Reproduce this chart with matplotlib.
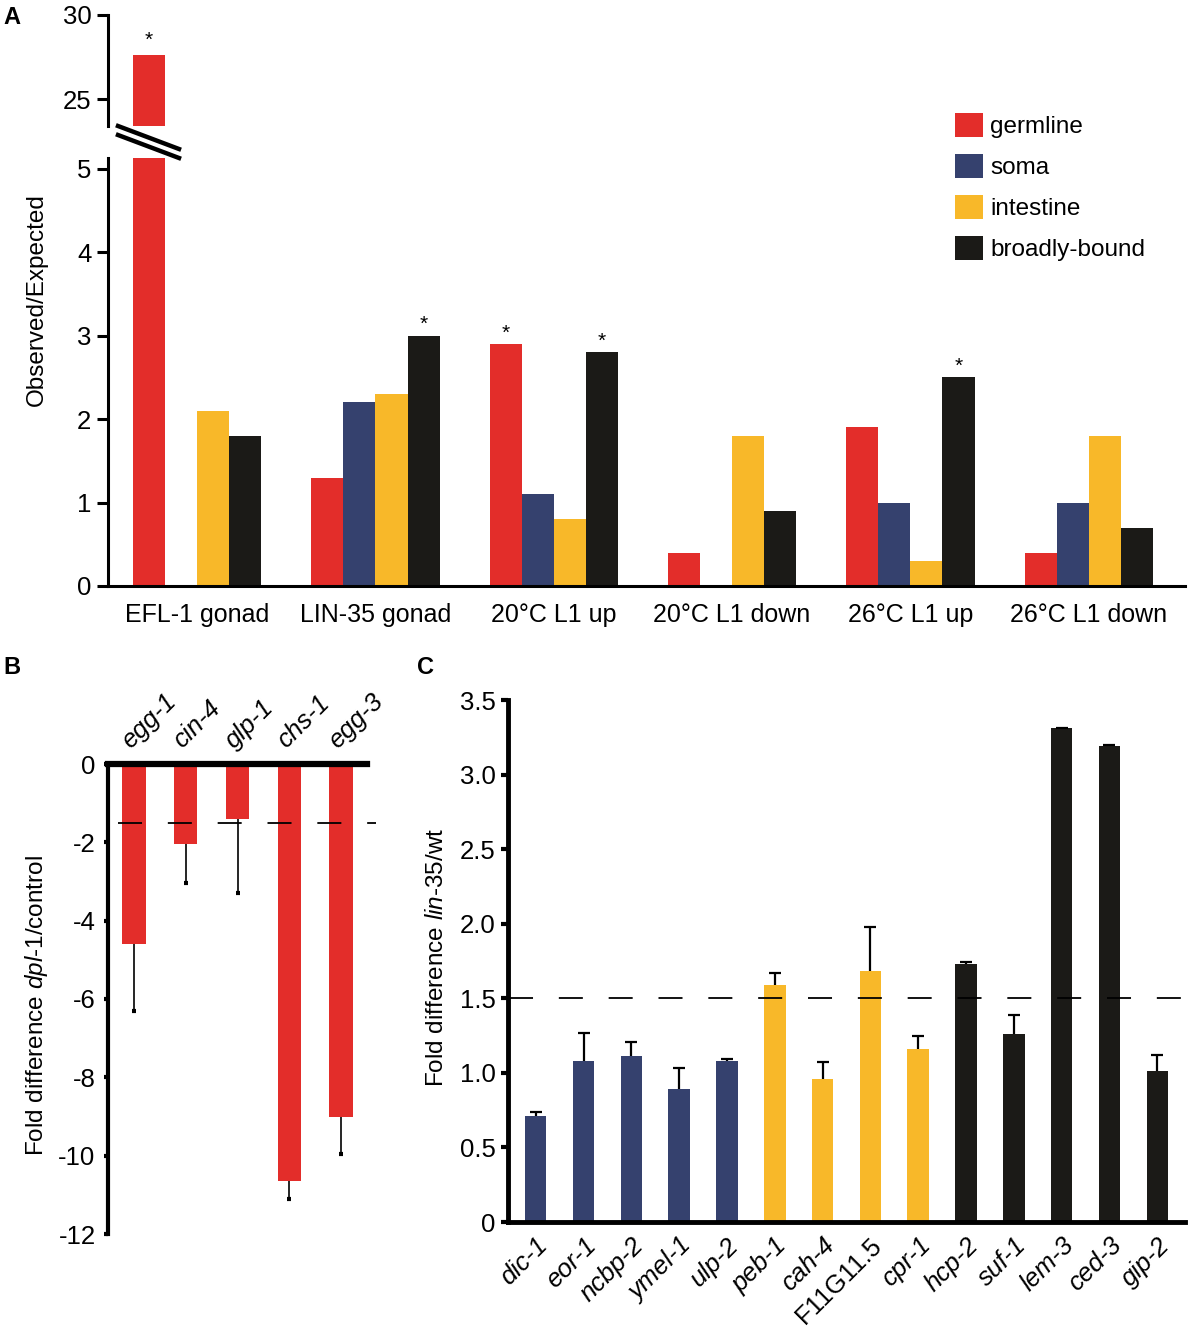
import numpy as np
import matplotlib
matplotlib.use("Agg")
import matplotlib.pyplot as plt
from matplotlib.patches import Patch
from matplotlib.lines import Line2D

# --- CONFIGURATION ---
W, H = 1200, 1328
RED = "#E32D2A"
NAVY = "#35416E"
YELLOW = "#F8B829"
BLACK = "#1B1A17"

plt.rcParams['font.family'] = ['Liberation Sans', 'DejaVu Sans']
plt.rcParams['axes.unicode_minus'] = False
plt.rcParams['mathtext.fontset'] = 'custom'
plt.rcParams['mathtext.rm'] = 'Liberation Sans'
plt.rcParams['mathtext.it'] = 'Liberation Sans:italic'

# --- DATA ---
# Panel A: observed/expected enrichment per gene set
a_groups = ["EFL-1 gonad", "LIN-35 gonad", "20°C L1 up", "20°C L1 down",
            "26°C L1 up", "26°C L1 down"]
a_series = ["germline", "soma", "intestine", "broadly-bound"]
a_germline = [27.6, 1.3, 2.9, 0.4, 1.9, 0.4]
a_soma = [0.0, 2.2, 1.1, 0.0, 1.0, 1.0]
a_intestine = [2.1, 2.3, 0.8, 1.8, 0.3, 1.8]
a_broad = [1.8, 3.0, 2.8, 0.9, 2.5, 0.7]
# (series index, group index) carrying a significance star
a_stars = [(0, 0), (3, 1), (0, 2), (3, 2), (3, 4)]

# Panel B: fold difference dpl-1/control
b_genes = ["egg-1", "cin-4", "glp-1", "chs-1", "egg-3"]
b_values = [-4.6, -2.05, -1.4, -10.65, -9.0]
b_err = [1.7, 1.0, 1.9, 0.45, 0.95]

# Panel C: fold difference lin-35/wt
c_genes = ["dic-1", "eor-1", "ncbp-2", "ymel-1", "ulp-2", "peb-1", "cah-4",
           "F11G11.5", "cpr-1", "hcp-2", "suf-1", "lem-3", "ced-3", "gip-2"]
c_values = [0.71, 1.08, 1.11, 0.89, 1.08, 1.59, 0.96, 1.68, 1.16, 1.73,
            1.26, 3.31, 3.19, 1.01]
c_err = [0.03, 0.19, 0.10, 0.14, 0.01, 0.08, 0.11, 0.30, 0.09, 0.01,
         0.13, 0.0, 0.01, 0.11]
c_class = ["soma"] * 5 + ["intestine"] * 4 + ["broadly-bound"] * 5

COLORS = {"germline": RED, "soma": NAVY, "intestine": YELLOW, "broadly-bound": BLACK}
DASH = (0, (13.3, 14.3))


def px_axes(fig, left, top, right, bottom):
    """Add axes placed by pixel box (origin top-left)."""
    return fig.add_axes([left / W, 1 - bottom / H, (right - left) / W, (bottom - top) / H])


fig = plt.figure(figsize=(W / 100, H / 100), dpi=100)

# --- PANEL A (broken y axis) ---
ax_top = px_axes(fig, 108, 15, 1185, 126)
ax_low = px_axes(fig, 108, 158, 1185, 586)

a_data = [a_germline, a_soma, a_intestine, a_broad]
x = np.arange(len(a_groups))
bw = 0.18
offsets = (np.arange(4) - 1.5) * bw
for ax in (ax_top, ax_low):
    for i, (name, vals) in enumerate(zip(a_series, a_data)):
        ax.bar(x + offsets[i], vals, bw, color=COLORS[name], label=name)
    ax.set_xlim(-0.5, 5.54)
    for s in ("top", "right"):
        ax.spines[s].set_visible(False)
    ax.spines["left"].set_linewidth(2.2)
    ax.tick_params(axis="y", length=8, width=2.2, labelsize=18.5, pad=4)

ax_top.set_ylim(23.4, 30)
ax_top.set_yticks([25, 30])
ax_top.spines["bottom"].set_visible(False)
ax_top.set_xticks([])

ax_low.set_ylim(0, 5.13)
ax_low.set_yticks(range(6))
ax_low.spines["bottom"].set_linewidth(2.2)
ax_low.set_xticks(x)
ax_low.set_xticklabels(a_groups, fontsize=18)
ax_low.tick_params(axis="x", length=0, pad=12)
ax_low.get_xticklabels()[0].set_x(-0.04)

for si, gi in a_stars:
    v = a_data[si][gi]
    target = ax_top if v > 5 else ax_low
    off = 0.35 if v > 5 else 0.02
    target.text(x[gi] + offsets[si], v + off, "*", ha="center", va="bottom", fontsize=15)

# break marks
for dy in (0, 9):
    fig.add_artist(Line2D([118 / W, 179 / W], [1 - (126 + dy) / H, 1 - (149 + dy) / H],
                          color="black", lw=3.2))

fig.text(37 / W, 1 - 300 / H, "Observed/Expected", rotation=90, ha="center", va="center",
         fontsize=17.5)

handles = [Patch(facecolor=COLORS[n]) for n in a_series]
fig.legend(handles, a_series, loc="upper left", bbox_to_anchor=(955 / W, 1 - 113 / H),
           frameon=False, fontsize=17.5, handlelength=1.15, handleheight=1.15,
           handletextpad=0.3, labelspacing=0.64, borderpad=0, borderaxespad=0)

# --- PANEL B ---
ax_b = px_axes(fig, 108, 764, 367, 1234)
xb = np.arange(len(b_genes))
ax_b.bar(xb, b_values, 0.45, color=RED, zorder=2)
_, caps, _ = ax_b.errorbar(xb, b_values, yerr=[b_err, np.zeros(len(b_err))], fmt="none",
                           ecolor="black", elinewidth=1.2, capsize=1.5, capthick=3, zorder=3)
caps[1].set_visible(False)
ax_b.plot([-0.3, 4.67], [-1.5, -1.5], color="black", lw=1.3,
          linestyle=DASH, clip_on=False, zorder=4)
ax_b.set_xlim(-0.5, 4.5)
ax_b.set_ylim(-12, 0)
ax_b.set_yticks(range(-12, 1, 2))
for s in ("bottom", "right"):
    ax_b.spines[s].set_visible(False)
ax_b.spines["top"].set_linewidth(4.5)
ax_b.spines["left"].set_linewidth(3)
ax_b.tick_params(axis="y", length=3, width=3, labelsize=18.5, pad=6)
ax_b.xaxis.tick_top()
ax_b.set_xticks(xb)
ax_b.set_xticklabels(b_genes, rotation=45, ha="left", va="bottom",
                     rotation_mode="anchor", fontsize=18.5, style="italic")
ax_b.tick_params(axis="x", length=0, pad=8)
fig.text(37 / W, 1 - 1006 / H, r"Fold difference $\mathit{dpl}$-$\mathit{1}$/control",
         rotation=90, ha="center", va="center", fontsize=17.5)

# --- PANEL C ---
ax_c = px_axes(fig, 508, 700, 1185, 1222)
xc = np.arange(len(c_genes))
ax_c.bar(xc, c_values, 0.45, color=[COLORS[c] for c in c_class], zorder=2)
_, caps, _ = ax_c.errorbar(xc, c_values, yerr=[np.zeros(len(c_err)), c_err], fmt="none",
                           ecolor="black", elinewidth=1.6, capsize=4, capthick=1.6, zorder=3)
caps[0].set_visible(False)
ax_c.plot([-0.55, 13.58], [1.5, 1.5], color="black", lw=1.3,
          linestyle=DASH, clip_on=False, zorder=4)
ax_c.set_xlim(-0.58, 13.58)
ax_c.set_ylim(0, 3.5)
ax_c.set_yticks(np.arange(0, 3.51, 0.5))
ax_c.set_yticklabels(["0"] + [f"{v:.1f}" for v in np.arange(0.5, 3.51, 0.5)])
for s in ("top", "right"):
    ax_c.spines[s].set_visible(False)
ax_c.spines["left"].set_linewidth(3.5)
ax_c.spines["bottom"].set_linewidth(3.5)
ax_c.tick_params(axis="y", length=5, width=3, labelsize=18.5, pad=4)
ax_c.set_xticks(xc)
ax_c.set_xticklabels(c_genes, rotation=45, ha="right", va="top",
                     rotation_mode="anchor", fontsize=18.5, style="italic")
for lbl in ax_c.get_xticklabels():
    if lbl.get_text() == "F11G11.5":
        lbl.set_style("normal")
ax_c.tick_params(axis="x", length=0, pad=8)
fig.text(437 / W, 1 - 957 / H, r"Fold difference $\mathit{lin}$-$\mathit{35}$/wt",
         rotation=90, ha="center", va="center", fontsize=17.5)

# --- PANEL LETTERS ---
for letter, (px, py) in {"A": (12, 17), "B": (12, 667), "C": (425, 667)}.items():
    fig.text(px / W, 1 - py / H, letter, fontsize=17, fontweight="bold", ha="center", va="center")

plt.savefig("out.png", dpi=100)
plt.close()
